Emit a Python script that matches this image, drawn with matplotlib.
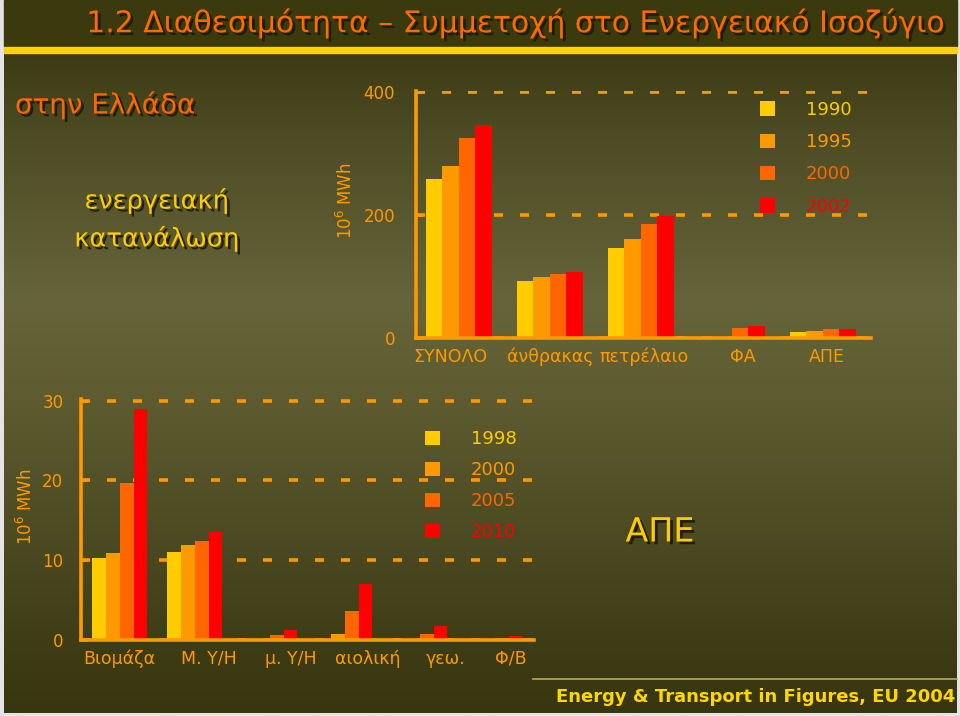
import numpy as np
import matplotlib.pyplot as plt
import matplotlib.patheffects as pe
from matplotlib.patches import Patch, Rectangle
from matplotlib.lines import Line2D
from matplotlib.transforms import ScaledTranslation

# top chart: energy consumption in Greece (10^6 MWh)
fuels = ["ΣΥΝΟΛΟ", "άνθρακας", "πετρέλαιο", "ΦΑ", "ΑΠΕ"]
years_top = ["1990", "1995", "2000", "2002"]
cons_1990 = [258, 92.6, 147, 0, 9.7]
cons_1995 = [280, 99.6, 161, 0, 11.8]
cons_2000 = [325, 104.4, 185, 17, 14]
cons_2002 = [347, 107, 197.6, 19.4, 14]
top_ticks = [0, 200, 400]

# bottom chart: renewables (10^6 MWh)
res_sources = ["Βιομάζα", "Μ. Υ/Η", "μ. Υ/Η", "αιολική", "γεω.", "Φ/Β"]
years_bot = ["1998", "2000", "2005", "2010"]
res_1998 = [10.3, 11.0, 0, 0, 0, 0]
res_2000 = [10.9, 11.9, 0, 0.8, 0, 0]
res_2005 = [19.7, 12.4, 0.6, 3.6, 0.8, 0.2]
res_2010 = [29.0, 13.5, 1.3, 7.0, 1.7, 0.5]
bot_ticks = [0, 10, 20, 30]

BAR_COLS = ["#FFCC00", "#FF9900", "#FF6600", "#FF0000"]
ORANGE = "#FF9900"
SHADOW = [pe.withSimplePatchShadow(offset=(2, -2), shadow_rgbFace="#1a1a05", alpha=0.9)]


def grouped_bars(ax, cats, series, years, width, xlim, ylim, ticks, ypad,
                 nudges, leg_anchor, leg_spacing):
    x = np.arange(len(cats))
    for i, (vals, col) in enumerate(zip(series, BAR_COLS)):
        ax.bar(x + (i - 1.5) * width, vals, width=width, color=col, zorder=2)

    ax.set_facecolor("none")
    for s in ["top", "right"]:
        ax.spines[s].set_visible(False)
    for s in ["left", "bottom"]:
        ax.spines[s].set_color(ORANGE)
        ax.spines[s].set_linewidth(2.6)
        ax.spines[s].set_zorder(3)
    ax.set_xlim(*xlim)
    ax.set_ylim(*ylim)
    ax.set_yticks(ticks)
    ax.set_xticks(x)
    ax.set_xticklabels(cats)
    ax.tick_params(axis="y", direction="in", length=4, width=2, color=ORANGE,
                   labelcolor=ORANGE, labelsize=12, pad=ypad)
    ax.tick_params(axis="x", length=0, labelcolor=ORANGE, labelsize=12.5, pad=7)
    ax.grid(axis="y", color=ORANGE, lw=2.6, linestyle=(0, (2.5, 4.7)))
    ax.set_axisbelow(True)

    fig = ax.figure
    for lbl, dx in zip(ax.get_xticklabels(), nudges):
        lbl.set_transform(lbl.get_transform() + ScaledTranslation(dx / 72, 0, fig.dpi_scale_trans))

    handles = [Patch(facecolor=c, edgecolor="none") for c in BAR_COLS]
    leg = ax.legend(handles, years, loc="upper left", bbox_to_anchor=leg_anchor,
                    frameon=False, fontsize=13, handlelength=0.85, handleheight=0.85,
                    handletextpad=1.7, labelspacing=leg_spacing, borderpad=0, borderaxespad=0)
    for t, c in zip(leg.get_texts(), BAR_COLS):
        t.set_color(c)


fig = plt.figure(figsize=(9.6, 7.16), dpi=100)
fig.patch.set_facecolor("#E4E4E4")

# slide background: vertical olive gradient
bg = fig.add_axes([4 / 960, 3 / 716, 953 / 960, 713 / 716])
bg.axis("off")
stops_y = [0, 0.074, 0.2, 0.42, 0.55, 0.78, 0.9, 1.0]
stops_c = ["#3A3A10", "#3C3B13", "#4F4D25", "#66643A", "#5F5C31", "#4A4820", "#3F3D15", "#38360E"]
yy = np.linspace(0, 1, 400)
rgb = np.array([[int(c[k:k + 2], 16) / 255 for k in (1, 3, 5)] for c in stops_c])
grad = np.stack([np.interp(yy, stops_y, rgb[:, k]) for k in range(3)], axis=1)
bg.imshow(grad[:, None, :], aspect="auto", extent=[0, 1, 0, 1])
bg.set_xlim(0, 1)
bg.set_ylim(0, 1)

# title band + yellow rule
fig.patches.append(Rectangle((4 / 960, 1 - 46 / 716), 953 / 960, 46 / 716,
                             transform=fig.transFigure, color="#3A3A0E", zorder=0.5))
fig.patches.append(Rectangle((4 / 960, 1 - 53 / 716), 953 / 960, 6 / 716,
                             transform=fig.transFigure, color="#FFD200", zorder=0.6))

fig.text(945 / 960, 1 - 23 / 716, "1.2 Διαθεσιμότητα – Συμμετοχή στο Ενεργειακό Ισοζύγιο",
         ha="right", va="center", fontsize=21.5, color="#FF6A00", path_effects=SHADOW)
fig.text(15 / 960, 1 - 105 / 716, "στην Ελλάδα", ha="left", va="center",
         fontsize=20, color="#FF6600", path_effects=SHADOW)
fig.text(157 / 960, 1 - 220 / 716, "ενεργειακή\nκατανάλωση", ha="center", va="center",
         fontsize=18.5, color="#FFCC00", linespacing=1.45, path_effects=SHADOW)
fig.text(660 / 960, 1 - 532 / 716, "ΑΠΕ", ha="center", va="center",
         fontsize=24, color="#FFCC00", path_effects=SHADOW)

# axis unit labels
fig.text(346 / 960, 1 - 201 / 716, "10$^{6}$ MWh", rotation=90, ha="center", va="center",
         fontsize=12, color=ORANGE)
fig.text(26 / 960, 1 - 507 / 716, "10$^{6}$ MWh", rotation=90, ha="center", va="center",
         fontsize=12, color=ORANGE)

# top chart
ax1 = fig.add_axes([416 / 960, 1 - 338 / 716, 455 / 960, 247.3 / 716])
grouped_bars(ax1, fuels, [cons_1990, cons_1995, cons_2000, cons_2002], years_top,
             0.18, (-0.47, 4.53), (0, 402), top_ticks, 15,
             [-6, 0, 2, 8, 3], (0.756, 0.96), 0.8)

# bottom chart
ax2 = fig.add_axes([81.4 / 960, 1 - 640 / 716, 452.6 / 960, 241 / 716])
grouped_bars(ax2, res_sources, [res_1998, res_2000, res_2005, res_2010], years_bot,
             0.185, (-0.51, 5.525), (0, 30.2), bot_ticks, 13,
             [0, 10, 15, 17, 19, 12], (0.759, 0.87), 0.72)

# footer
fig.lines.append(Line2D([533 / 960, 957 / 960], [1 - 679 / 716, 1 - 679 / 716],
                        transform=fig.transFigure, color="#BBAA55", lw=1.2))
fig.text(955 / 960, 1 - 697 / 716, "Energy & Transport in Figures, EU 2004",
         ha="right", va="center", fontsize=13, fontweight="bold", color="#FFD700")

fig.savefig("out.png", dpi=100, facecolor=fig.get_facecolor())
